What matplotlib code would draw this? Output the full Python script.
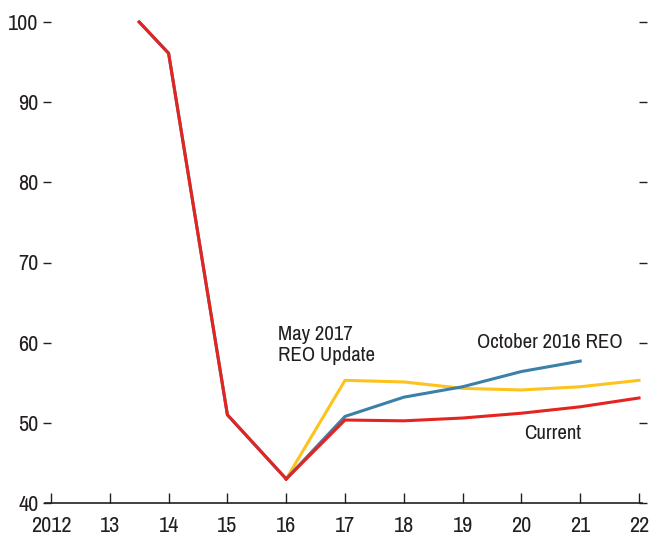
import matplotlib.pyplot as plt
from matplotlib import font_manager

# ── Data ───────────────────────────────────────────────
years_hist = [2013.5, 2014, 2015, 2016]
hist_vals = [100, 96.1, 51.0, 43.0]

years_proj = [2016, 2017, 2018, 2019, 2020, 2021, 2022]
current = [43.0, 50.35, 50.25, 50.6, 51.2, 52.0, 53.1]
may_2017 = [43.0, 55.3, 55.1, 54.3, 54.1, 54.5, 55.3]

years_oct = [2016, 2017, 2018, 2019, 2020, 2021]
oct_2016 = [43.0, 50.8, 53.2, 54.5, 56.4, 57.7]

x_ticks = list(range(2012, 2023))
x_labels = ["2012"] + [str(y % 100) for y in range(2013, 2023)]
y_ticks = [40, 50, 60, 70, 80, 90, 100]

RED = "#e5231f"
YELLOW = "#fdc31c"
BLUE = "#3b80a8"
INK = "#231f20"

# pick a narrow font, Arial Narrow look-alike
names = {f.name for f in font_manager.fontManager.ttflist}
font = "Liberation Sans"
for cand in ["Liberation Sans Narrow", "Arial Narrow", "Archivo Narrow",
             "PT Sans Narrow", "Roboto Condensed", "Open Sans Condensed"]:
    if cand in names:
        font = cand
        break
plt.rcParams["font.family"] = [font, "DejaVu Sans"]
plt.rcParams["text.color"] = INK

fig = plt.figure(figsize=(6.52, 5.35), dpi=100)
ax = fig.add_axes([51 / 652, 32 / 535, 588 / 652, 481 / 535])

lw = 2.2
ax.plot(years_hist, hist_vals, color=BLUE, lw=lw, clip_on=False)
ax.plot(years_proj, may_2017, color=YELLOW, lw=lw, clip_on=False)
ax.plot(years_oct, oct_2016, color=BLUE, lw=lw, clip_on=False)
ax.plot(years_hist, hist_vals, color=RED, lw=lw, clip_on=False)
ax.plot(years_proj, current, color=RED, lw=lw, clip_on=False)

ax.text(2015.86, 59.7, "May 2017\nREO Update", fontsize=15, ha="left", va="center",
        linespacing=1.15)
ax.text(2021.73, 60.0, "October 2016 REO", fontsize=15, ha="right", va="center")
ax.text(2020.54, 48.7, "Current", fontsize=15, ha="center", va="center")

ax.set_xlim(2012, 2022)
ax.set_ylim(40, 100)
ax.set_xticks(x_ticks)
ax.set_xticklabels(x_labels)
ax.set_yticks(y_ticks)

for s in ["left", "right", "top"]:
    ax.spines[s].set_visible(False)
ax.spines["bottom"].set_bounds(2011.9, 2022.05)
ax.spines["bottom"].set_color(INK)
ax.spines["bottom"].set_linewidth(1.2)

ax.tick_params(axis="x", direction="in", length=7, width=1, colors=INK,
               labelsize=16, pad=9)
ax.tick_params(axis="y", direction="out", length=6, width=1, colors=INK,
               labelsize=16, pad=3, right=True)

plt.savefig("out.png", dpi=100)
